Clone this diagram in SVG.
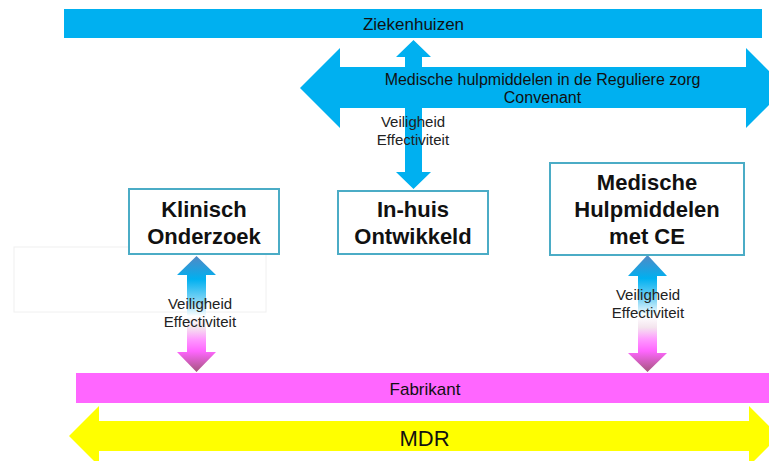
<svg xmlns="http://www.w3.org/2000/svg" width="769" height="461" viewBox="0 0 769 461">
<style>
  .t{font-family:"Liberation Sans",Arial,sans-serif;fill:#111;text-anchor:middle}
  .bar{font-size:17px}
  .mid{font-size:16px}
  .small{font-size:15px;fill:#222}
  .bold{font-size:22px;font-weight:bold}
  .box{fill:#fff;stroke:#4bacc6;stroke-width:2}
  .blue{fill:#00b0f0}
  .grad{fill:url(#vg)}
</style>
<defs>
  <linearGradient id="vg" x1="0" y1="0" x2="0" y2="1">
    <stop offset="0" stop-color="#5288c4"/>
    <stop offset="0.2" stop-color="#00b0f0"/>
    <stop offset="0.38" stop-color="#7fd4f5"/>
    <stop offset="0.52" stop-color="#ffffff"/>
    <stop offset="0.62" stop-color="#f4e4ee"/>
    <stop offset="0.72" stop-color="#ff99ff"/>
    <stop offset="0.82" stop-color="#ff66ff"/>
    <stop offset="1" stop-color="#a4567c"/>
  </linearGradient>
</defs>

<rect x="14" y="247" width="252" height="65" fill="none" stroke="#f0f0f0" stroke-width="1"/>

<g id="connectors">
  <path class="blue" d="M413.5,40 L431,57 L422,57 L422,172 L431,172 L413.5,189 L396,172 L405,172 L405,57 L396,57 Z"/>
  <path class="grad" d="M196.5,256 L216,275 L206,275 L206,352 L216,352 L196.5,372 L177,352 L187,352 L187,275 L177,275 Z"/>
  <path class="grad" d="M647.5,255 L667,276 L657,276 L657,353 L667,353 L647.5,372 L628,353 L638,353 L638,276 L628,276 Z"/>
  <text class="t small" x="413" y="127">Veiligheid</text>
  <text class="t small" x="413" y="145">Effectiviteit</text>
  <text class="t small" x="200" y="309">Veiligheid</text>
  <text class="t small" x="200" y="327">Effectiviteit</text>
  <text class="t small" x="648" y="300">Veiligheid</text>
  <text class="t small" x="648" y="318">Effectiviteit</text>
</g>

<g id="ziekenhuizen">
  <rect class="blue" x="64" y="9" width="698" height="29"/>
  <text class="t bar" x="413.5" y="30">Ziekenhuizen</text>
</g>

<g id="convenant">
  <path class="blue" d="M300,88 L340,48 L340,67 L746,67 L746,48 L786,88 L746,128 L746,108 L340,108 L340,128 Z"/>
  <text class="t mid" x="542.5" y="85">Medische hulpmiddelen in de Reguliere zorg</text>
  <text class="t mid" x="542.5" y="103">Convenant</text>
</g>

<g id="klinisch">
  <rect class="box" x="129" y="189" width="150" height="65"/>
  <text class="t bold" x="204" y="216.5">Klinisch</text>
  <text class="t bold" x="204" y="244">Onderzoek</text>
</g>

<g id="inhuis">
  <rect class="box" x="338" y="191" width="150" height="63"/>
  <text class="t bold" x="413" y="216.5">In-huis</text>
  <text class="t bold" x="413" y="244">Ontwikkeld</text>
</g>

<g id="medische">
  <rect class="box" x="550" y="163" width="194" height="92"/>
  <text class="t bold" x="647" y="189.5">Medische</text>
  <text class="t bold" x="647" y="216.5">Hulpmiddelen</text>
  <text class="t bold" x="647" y="244">met CE</text>
</g>

<g id="fabrikant">
  <rect x="76" y="373" width="700" height="30" fill="#ff66ff"/>
  <text class="t bar" x="425" y="395">Fabrikant</text>
</g>

<g id="mdr">
  <path fill="#ffff00" d="M69,436 L99,406 L99,421 L749,421 L749,406 L779,436 L749,466 L749,451 L99,451 L99,466 Z"/>
  <text class="t" style="font-size:22px" x="424.5" y="446">MDR</text>
</g>
</svg>
